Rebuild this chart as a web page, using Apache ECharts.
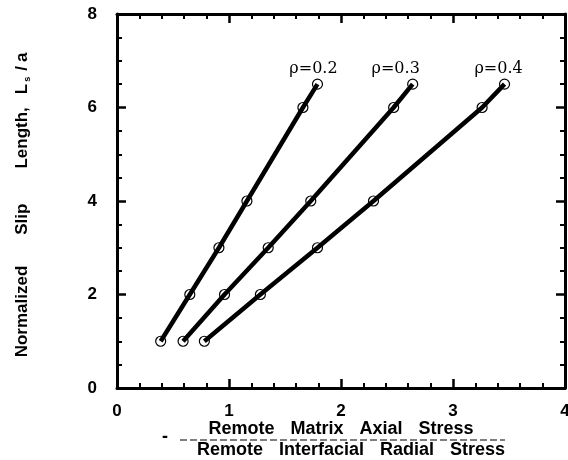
<!DOCTYPE html>
<html>
<head>
<meta charset="utf-8">
<script src="https://cdn.jsdelivr.net/npm/echarts@6/dist/echarts.min.js"></script>
<style>
html,body{margin:0;padding:0;background:#fff;}
#chart{width:568px;height:460px;}
</style>
</head>
<body>
<div id="chart"></div>
<script>
// Data
const slipLength = [1, 2, 3, 4, 6, 6.5];
const rho02 = [0.39, 0.65, 0.91, 1.16, 1.66, 1.79];
const rho03 = [0.59, 0.96, 1.35, 1.73, 2.47, 2.64];
const rho04 = [0.78, 1.28, 1.79, 2.29, 3.26, 3.46];
const seriesNames = ['ρ=0.2', 'ρ=0.3', 'ρ=0.4'];
const xTicks = [0, 1, 2, 3, 4];
const yTicks = [0, 2, 4, 6, 8];
const xNameTopWords = ['Remote', 'Matrix', 'Axial', 'Stress'];
const xNameBottomWords = ['Remote', 'Interfacial', 'Radial', 'Stress'];
const yNameWords = ['Normalized', 'Slip', 'Length,'];

const chart = echarts.init(document.getElementById('chart'), null, {renderer: 'canvas'});

function pairs(xs) { return xs.map((x, i) => [x, slipLength[i]]); }

const labelOffsets = [[-4, 0], [-17, 0], [-6, 0]];
const allX = [rho02, rho03, rho04];

const SANS = 'Liberation Sans, Arial, sans-serif';
const axisLine = {show: true, onZero: false, lineStyle: {color: '#000', width: 3}};
const tickStyle = {show: true, inside: true, length: 9, lineStyle: {color: '#000', width: 2.5}};
const tickFont = {color: '#000', fontFamily: SANS, fontWeight: 'bold', fontSize: 17};

function bold(size, extra) {
  return Object.assign({fontFamily: SANS, fontWeight: 'bold', fontSize: size, color: '#000'}, extra || {});
}

const xName =
  xNameTopWords.map((w, i) => '{' + (i < 3 ? 'tw' : 'te') + '|' + w + '}').join('') + '\n' +
  xNameBottomWords.map((w, i) => '{' + (i === 0 ? 'bf' : (i < 3 ? 'bw' : 'be')) + '|' + w + '}').join('');

const yNameStr = '{w1|' + yNameWords[0] + '}{w2|' + yNameWords[1] + '}{w3|' + yNameWords[2] + '}{L|L}{s|s}{sl|/}{a|a}';

const option = {
  animation: false,
  backgroundColor: '#fff',
  grid: {left: 117, right: 3, top: 14, bottom: 72, containLabel: false, outerBoundsMode: 'none'},
  xAxis: [{
    type: 'value', min: xTicks[0], max: xTicks[xTicks.length - 1], interval: 1,
    position: 'bottom',
    axisLine: axisLine, axisTick: tickStyle,
    minorTick: {show: true, splitNumber: 5, length: 5, lineStyle: {color: '#000', width: 2}},
    splitLine: {show: false},
    axisLabel: Object.assign({margin: 15}, tickFont),
    name: xName,
    nameLocation: 'middle', nameGap: 31, nameMoveOverlap: false,
    nameTextStyle: {
      color: '#000', fontFamily: SANS, fontWeight: 'bold', fontSize: 18, lineHeight: 21,
      rich: {
        tw: bold(18, {lineHeight: 21, padding: [0, 16, 0, 0]}),
        te: bold(18, {lineHeight: 21, padding: [0, 0, 0, 0]}),
        bf: bold(18, {lineHeight: 21, padding: [0, 16, 0, 20]}),
        bw: bold(18, {lineHeight: 21, padding: [0, 16, 0, 0]}),
        be: bold(18, {lineHeight: 21})
      }
    }
  }, {
    type: 'value', min: xTicks[0], max: xTicks[xTicks.length - 1], interval: 1,
    position: 'top',
    axisLine: axisLine, axisTick: tickStyle,
    minorTick: {show: true, splitNumber: 5, length: 5, lineStyle: {color: '#000', width: 2}},
    splitLine: {show: false}, axisLabel: {show: false}
  }],
  yAxis: [{
    type: 'value', min: yTicks[0], max: yTicks[yTicks.length - 1], interval: 2,
    position: 'left',
    axisLine: axisLine, axisTick: tickStyle,
    minorTick: {show: true, splitNumber: 4, length: 5, lineStyle: {color: '#000', width: 2}},
    splitLine: {show: false},
    axisLabel: Object.assign({margin: 20}, tickFont),
    name: yNameStr,
    nameLocation: 'middle', nameGap: 85, nameRotate: 90, nameMoveOverlap: false,
    nameTextStyle: {
      color: '#000', fontFamily: SANS, fontWeight: 'bold', fontSize: 17, lineHeight: 20,
      rich: {
        w1: bold(17, {lineHeight: 20, padding: [0, 31, 0, 0]}),
        w2: bold(17, {lineHeight: 20, padding: [0, 35, 0, 0]}),
        w3: bold(17, {lineHeight: 20, padding: [0, 13, 0, 0]}),
        L: bold(17, {lineHeight: 20, padding: [0, 1, 0, 0]}),
        s: bold(9, {verticalAlign: 'bottom', lineHeight: 20, padding: [8, 6, 0, 1]}),
        sl: bold(17, {lineHeight: 20, padding: [0, 4, 0, 0]}),
        a: bold(17, {lineHeight: 20, padding: [0, 8, 0, 0]})
      }
    }
  }, {
    type: 'value', min: yTicks[0], max: yTicks[yTicks.length - 1], interval: 2,
    position: 'right',
    axisLine: axisLine, axisTick: tickStyle,
    minorTick: {show: true, splitNumber: 4, length: 5, lineStyle: {color: '#000', width: 2}},
    splitLine: {show: false}, axisLabel: {show: false}
  }],
  series: allX.map((xs, k) => ({
    type: 'line',
    name: seriesNames[k],
    xAxisIndex: 0, yAxisIndex: 0,
    data: pairs(xs).map((p, i, arr) => i === arr.length - 1 ? {
      value: p,
      label: {
        show: true, position: 'top', distance: 2, offset: labelOffsets[k],
        formatter: seriesNames[k],
        color: '#000', fontFamily: 'DejaVu Serif, serif', fontSize: 16
      }
    } : p),
    lineStyle: {color: '#000', width: 4.5},
    symbol: 'circle', symbolSize: 10,
    itemStyle: {color: 'rgba(255,255,255,0)', borderColor: '#000', borderWidth: 1.2},
    z: 3
  })),
  graphic: [{
    type: 'text', left: 162, top: 428,
    style: {text: '-', fontFamily: SANS, fontWeight: 'bold', fontSize: 18, fill: '#000'}
  }, {
    type: 'line',
    shape: {x1: 180, y1: 440, x2: 505, y2: 440},
    style: {stroke: '#000', lineWidth: 1.2, lineDash: [7, 3]}
  }]
};
chart.setOption(option);
</script>
</body>
</html>
